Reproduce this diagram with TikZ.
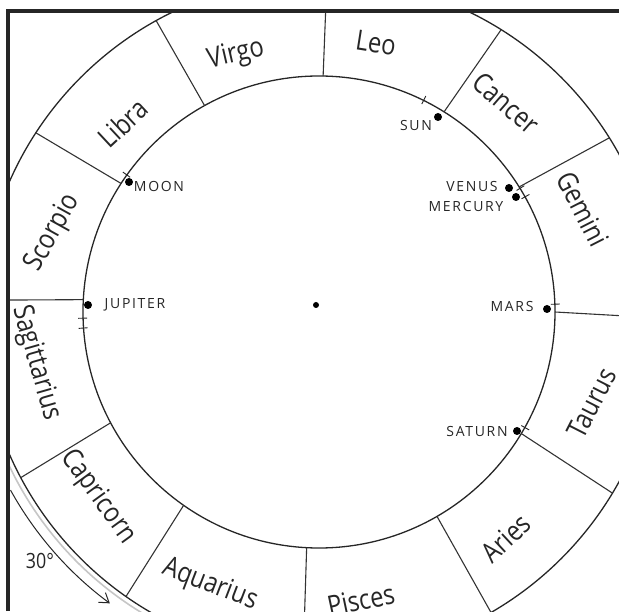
\documentclass[tikz,border=0pt]{standalone}
\usepackage{fontspec}
\newfontfamily\hand{Open Sans}[FakeStretch=0.85]
\newfontfamily\handcaps{Open Sans}[LetterSpace=12]
\usetikzlibrary{arrows.meta}

\begin{document}
\begin{tikzpicture}[
    x=1pt, y=1pt,
    >={Straight Barb[length=9pt,width=12pt]},
    ring/.style={line width=1.3pt, draw=black!85},
    spoke/.style={line width=1.1pt, draw=black!80},
    sign/.style={font=\hand\fontsize{28}{30}\selectfont, inner sep=0pt, text=black!85},
    planet/.style={circle, fill=black, inner sep=0pt, minimum size=8pt},
    plabel/.style={font=\handcaps\fontsize{14}{16}\selectfont, inner sep=0pt, text=black!85},
    ringtick/.style={line width=0.9pt, draw=black!85}
  ]
  \useasboundingbox (0,0) rectangle (619,611);

  % centres of the two rings
  \coordinate (c) at (319,299);
  \coordinate (o) at (321,293);

  \begin{scope}
    \clip (8,0) rectangle (619,600);

    % pencil trace and the 30 degree arrow
    \draw[gray!45, line width=1.6pt] ([shift={(200:345)}]o) arc[start angle=200, end angle=240, radius=345];
    \draw[->, line width=1pt, black!85] ([shift={(209:355)}]o) arc[start angle=209, end angle=233.5, radius=355];

    % rings
    \draw[ring] (o) circle[radius=340];
    \draw[ring] (c) circle[radius=236];

    % dividers between the signs
    \foreach \a in {0,32,58,89,119,147,177,208,235,267,300,329}
      \draw[spoke] ([shift={(\a:236)}]c) -- ([shift={(\a:340)}]o);
  \end{scope}

  % frame
  \draw[line width=3.2pt, black!85] (8,0) -- (8,600) -- (619,600);

  % signs
  \node[sign, rotate=13]  (virgo)  at (236,556) {Virgo};
  \node[sign, rotate=-9]  (leo)    at (376,568) {Leo};
  \node[sign, rotate=-41] (cancer) at (506,508) {Cancer};
  \node[sign, rotate=-63] (gemini) at (583,402) {Gemini};
  \node[sign, rotate=63]  (taurus) at (592,208) {Taurus};
  \node[sign, rotate=43]  (aries)  at (506,73)  {Aries};
  \node[sign, rotate=12]  (pisces) at (361,11)  {Pisces};
  \node[sign, rotate=-21] (aquarius) at (210,26) {Aquarius};
  \node[sign, rotate=-54] (capricorn) at (98,114) {Capricorn};
  \node[sign, rotate=-74] (sagittarius) at (36,248) {Sagittarius};
  \node[sign, rotate=61]  (scorpio) at (53,378) {Scorpio};
  \node[sign, rotate=43]  (libra)  at (123,488) {Libra};

  \node[font=\hand\fontsize{21}{23}\selectfont, text=black!85] (deg) at (40,50) {30°};

  % planets
  \node[planet] (sun)     at (438,494) {};
  \node[planet] (venus)   at (509,423) {};
  \node[planet] (mercury) at (516,414) {};
  \node[planet] (mars)    at (547,302) {};
  \node[planet] (saturn)  at (517,180) {};
  \node[planet] (moon)    at (129,429) {};
  \node[planet] (jupiter) at (88,306)  {};
  \node[planet, minimum size=6pt] (earth) at (316,306) {};

  \node[plabel] (sunlbl)     at (416,485) {SUN};
  \node[plabel] (venuslbl)   at (472,424) {VENUS};
  \node[plabel] (mercurylbl) at (466,404) {MERCURY};
  \node[plabel] (marslbl)    at (512,304) {MARS};
  \node[plabel] (saturnlbl)  at (477,179) {SATURN};
  \node[plabel] (moonlbl)    at (159,425) {MOON};
  \node[plabel] (jupiterlbl) at (135,306) {JUPITER};

  % small marks on the inner ring
  \foreach \a in {63.7,31.6,29.2,1.9,144.5,181.5,183.9,330.7}
    \draw[ringtick] ([shift={(\a:232)}]c) -- ([shift={(\a:241)}]c);

\end{tikzpicture}
\end{document}
